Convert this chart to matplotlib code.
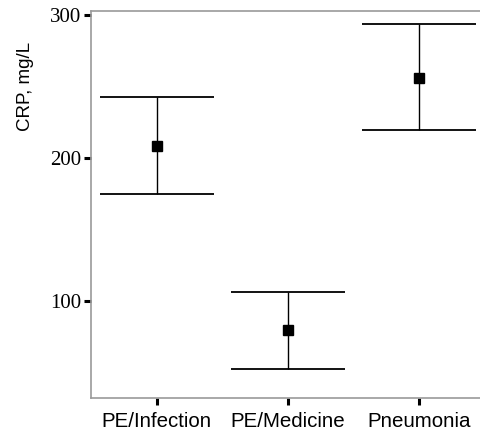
import matplotlib
matplotlib.use("Agg")
import matplotlib.pyplot as plt
import numpy as np

categories = ["PE/Infection", "PE/Medicine", "Pneumonia"]
means = [208.4, 79.7, 256.2]
lower = [175.0, 52.7, 219.6]
upper = [242.9, 106.3, 293.7]
yticks = [100, 200, 300]

fig = plt.figure(figsize=(4.81, 4.32), dpi=100)
ax = fig.add_axes([91/481, 34.3/432, 393.4/481, 386.7/432])

x = np.arange(len(categories))
m = np.array(means)
yerr = np.vstack([m - np.array(lower), np.array(upper) - m])
ax.errorbar(x, m, yerr=yerr, fmt="s", color="black", ms=6.7,
            ecolor="black", elinewidth=1.0, capsize=40.7, capthick=1.3)

ax.set_xlim(-0.5, 2.5)
ax.set_ylim(32.4, 302.8)
ax.set_xticks(x)
ax.set_xticklabels(categories, fontfamily="Liberation Sans", fontsize=14.8)
ax.set_yticks(yticks)
ax.set_yticklabels([str(v) for v in yticks], fontfamily="Liberation Serif", fontsize=15)
ax.tick_params(axis="x", length=5, width=2.2, color="black", pad=5)
ax.tick_params(axis="y", length=5, width=2.2, color="black", pad=2)

for s in ax.spines.values():
    s.set_color("#9a9a9a")
    s.set_linewidth(1.2)
ax.spines["right"].set_visible(False)

fig.text(26/481, 1 - 86/432, "CRP, mg/L", rotation=90, ha="center", va="center",
         fontfamily="Liberation Sans", fontsize=13.5)

fig.savefig("out.png", dpi=100)
